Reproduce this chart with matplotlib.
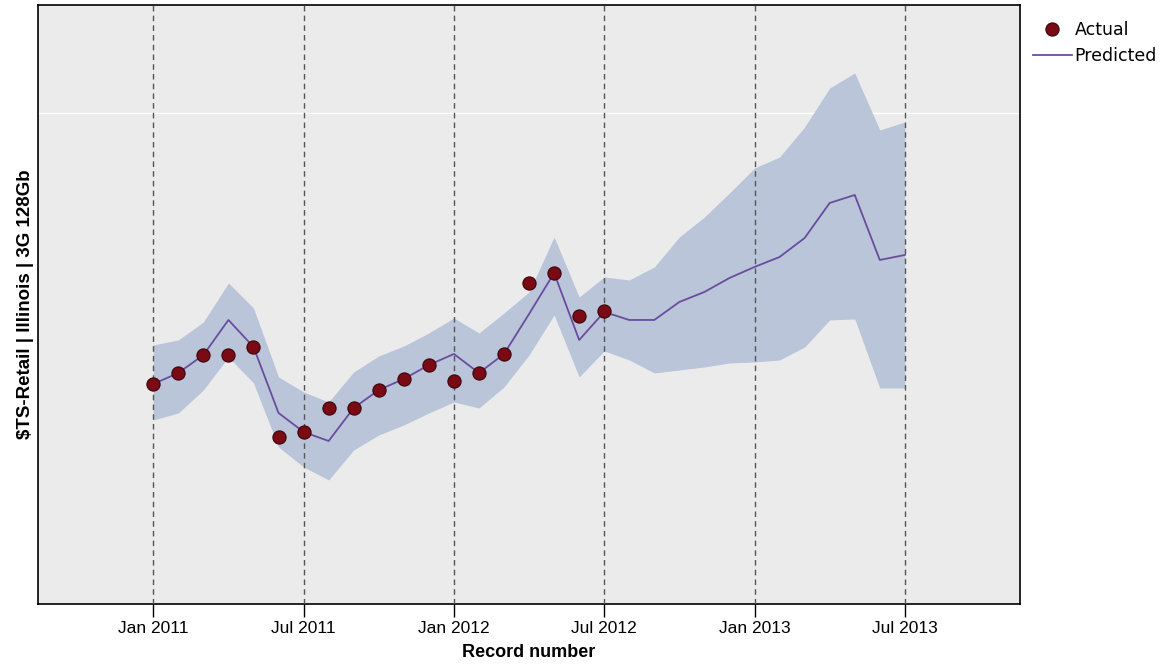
import matplotlib
matplotlib.use("Agg")
import matplotlib.pyplot as plt
import numpy as np

plt.rcParams['font.family'] = ['Liberation Sans', 'DejaVu Sans']

# monthly records, Jan 2011 .. Jul 2013
months = ["Jan 2011", "Feb 2011", "Mar 2011", "Apr 2011", "May 2011", "Jun 2011",
          "Jul 2011", "Aug 2011", "Sep 2011", "Oct 2011", "Nov 2011", "Dec 2011",
          "Jan 2012", "Feb 2012", "Mar 2012", "Apr 2012", "May 2012", "Jun 2012",
          "Jul 2012", "Aug 2012", "Sep 2012", "Oct 2012", "Nov 2012", "Dec 2012",
          "Jan 2013", "Feb 2013", "Mar 2013", "Apr 2013", "May 2013", "Jun 2013",
          "Jul 2013"]

actual = [220, 231, 249, 249, 257, 167, 172, 196, 196, 214, 225, 239,
          223, 231, 250, 321, 331, 288, 293]

predicted = [220, 231, 249, 284, 257, 191, 172, 163, 196, 214, 225, 239,
             250, 231, 250, 290, 331, 264, 292, 284, 284, 302, 312, 326,
             337, 347, 366, 401, 409, 344, 349]

upper = [259, 264, 282, 321, 296, 227, 212, 202, 232, 248, 258, 271,
         286, 271, 291, 312, 367, 307, 327, 324, 337, 367, 387, 411,
         436, 447, 477, 516, 531, 474, 482]

lower = [184, 191, 214, 247, 221, 157, 137, 124, 154, 169, 179, 191,
         202, 196, 217, 249, 289, 227, 253, 244, 231, 234, 237, 241,
         242, 244, 257, 284, 285, 216, 216]

tick_months = ["Jan 2011", "Jul 2011", "Jan 2012", "Jul 2012", "Jan 2013", "Jul 2013"]

x = np.arange(len(months))
xa = np.arange(len(actual))
tick_pos = [months.index(m) for m in tick_months]

fig = plt.figure(figsize=(11.67, 6.64), dpi=100)
ax = fig.add_axes([0.0326, 0.0904, 0.8415, 0.9021])
ax.set_facecolor("#EBEBEB")

ax.axhline(491, color="white", lw=1, zorder=0.5)
for p in tick_pos:
    ax.axvline(p, color="#555555", lw=1, ls=(0, (4, 3)), zorder=3)

ax.fill_between(x, lower, upper, color="#BAC5D9", lw=0, zorder=1)
ax.plot(x, predicted, color="#6A4C9E", lw=1.3, zorder=4, label="Predicted")
ax.plot(xa, actual, ls="none", marker="o", ms=9.5, mfc="#7A0A14", mec="#3A0508",
        mew=0.8, zorder=5, label="Actual")

ax.set_xlim(-4.6, 34.6)
ax.set_ylim(0, 599)
ax.set_xticks(tick_pos)
ax.set_xticklabels(tick_months, fontsize=12.5)
ax.set_yticks([])
ax.tick_params(axis="x", length=9, width=1, color="black", pad=3)
for s in ax.spines.values():
    s.set_color("black")
    s.set_linewidth(1.2)

ax.set_xlabel("Record number", fontsize=13, fontweight="bold", labelpad=6)
ax.set_ylabel("\\$TS-Retail | Illinois | 3G 128Gb", fontsize=13.5, fontweight="bold", labelpad=3)

h, l = ax.get_legend_handles_labels()
fig.legend([h[1], h[0]], [l[1], l[0]], loc="upper left", bbox_to_anchor=(0.885, 0.968),
           frameon=False, prop={"family": "DejaVu Sans", "size": 12.5},
           handlelength=2.25, handletextpad=0.15, labelspacing=0.45, borderaxespad=0,
           borderpad=0)

fig.savefig("out.png", dpi=100)
